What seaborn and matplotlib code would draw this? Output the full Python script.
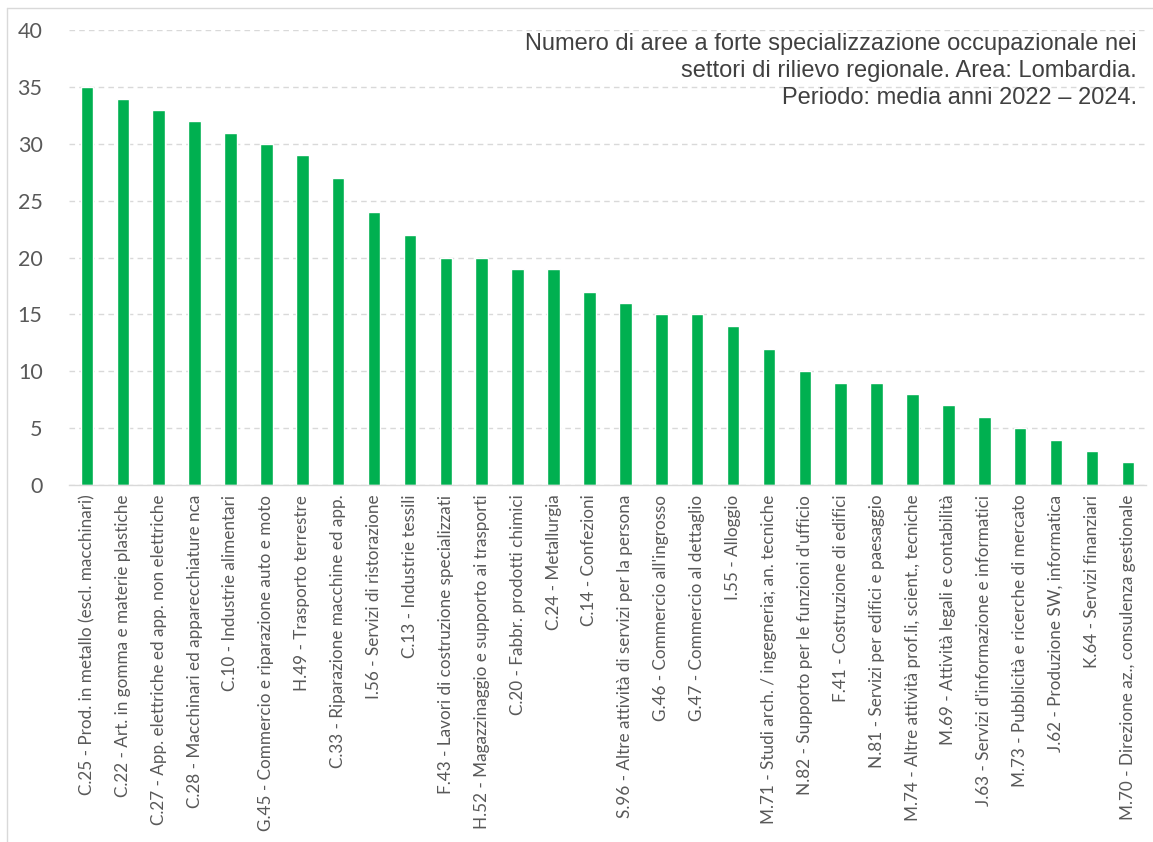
import matplotlib
matplotlib.use("Agg")
import matplotlib.pyplot as plt
from matplotlib.lines import Line2D
import seaborn as sns
import pandas as pd

# settori e numero di aree
settori = [
    "C.25 - Prod. in metallo (escl. macchinari)",
    "C.22 - Art. in gomma e materie plastiche",
    "C.27 - App. elettriche ed app. non elettriche",
    "C.28 - Macchinari ed apparecchiature nca",
    "C.10 - Industrie alimentari",
    "G.45 - Commercio e riparazione auto e moto",
    "H.49 - Trasporto terrestre",
    "C.33 - Riparazione macchine ed app.",
    "I.56 - Servizi di ristorazione",
    "C.13 - Industrie tessili",
    "F.43 - Lavori di costruzione specializzati",
    "H.52 - Magazzinaggio e supporto ai trasporti",
    "C.20 - Fabbr. prodotti chimici",
    "C.24 - Metallurgia",
    "C.14 - Confezioni",
    "S.96 - Altre attività di servizi per la persona",
    "G.46 - Commercio all'ingrosso",
    "G.47 - Commercio al dettaglio",
    "I.55 - Alloggio",
    "M.71 - Studi arch. / ingegneria; an. tecniche",
    "N.82 - Supporto per le funzioni d'ufficio",
    "F.41 - Costruzione di edifici",
    "N.81 - Servizi per edifici e paesaggio",
    "M.74 - Altre attività prof.li, scient., tecniche",
    "M.69 - Attività legali e contabilità",
    "J.63 - Servizi d'informazione e informatici",
    "M.73 - Pubblicità e ricerche di mercato",
    "J.62 - Produzione SW, informatica",
    "K.64 - Servizi finanziari",
    "M.70 - Direzione az., consulenza gestionale",
]
num_aree = [35, 34, 33, 32, 31, 30, 29, 27, 24, 22, 20, 20, 19, 19, 17,
            16, 15, 15, 14, 12, 10, 9, 9, 8, 7, 6, 5, 4, 3, 2]

titolo = ("Numero di aree a forte specializzazione occupazionale nei\n"
          "settori di rilievo regionale. Area: Lombardia.\n"
          "Periodo: media anni 2022 \u2013 2024.")

df = pd.DataFrame({"settore": settori, "aree": num_aree})

sns.set_style("white")
plt.rcParams["font.family"] = ["Lato", "DejaVu Sans"]

fig = plt.figure(figsize=(11.53, 8.42), dpi=100)
ax = fig.add_axes([0.0598, 0.424, 0.934, 0.540])

sns.barplot(data=df, x="settore", y="aree", color="#00B050",
            width=0.35, saturation=1, ax=ax)

ax.set_ylim(0, 40)
ax.set_xlim(-0.5, len(settori) - 0.5)
ax.set_yticks(range(0, 41, 5))
ax.yaxis.grid(True, linestyle=(0, (4, 3)), color="#d9d9d9", linewidth=1)
ax.set_axisbelow(True)
for s in ["top", "right", "left"]:
    ax.spines[s].set_visible(False)
ax.spines["bottom"].set_color("#d9d9d9")
ax.spines["bottom"].set_linewidth(1)

ax.set_xlabel("")
ax.set_ylabel("")
ax.tick_params(axis="y", length=0, pad=19, labelsize=15.5, labelcolor="#595959")
ax.tick_params(axis="x", length=0, pad=7, labelsize=12.3, labelcolor="#595959")
plt.setp(ax.get_xticklabels(), rotation=90, ha="center", va="top")

ax.text(0.9915, 0.995, titolo, transform=ax.transAxes, ha="right", va="top",
        fontsize=17, color="#404040", family="Liberation Sans",
        linespacing=1.3)

# cornice esterna (solo lati alto e sinistro visibili)
fig.lines.append(Line2D([7 / 1153, 1], [1 - 8 / 842, 1 - 8 / 842],
                        transform=fig.transFigure, color="#d9d9d9", lw=1))
fig.lines.append(Line2D([7 / 1153, 7 / 1153], [0, 1 - 8 / 842],
                        transform=fig.transFigure, color="#d9d9d9", lw=1))

fig.savefig("out.png", dpi=100)
